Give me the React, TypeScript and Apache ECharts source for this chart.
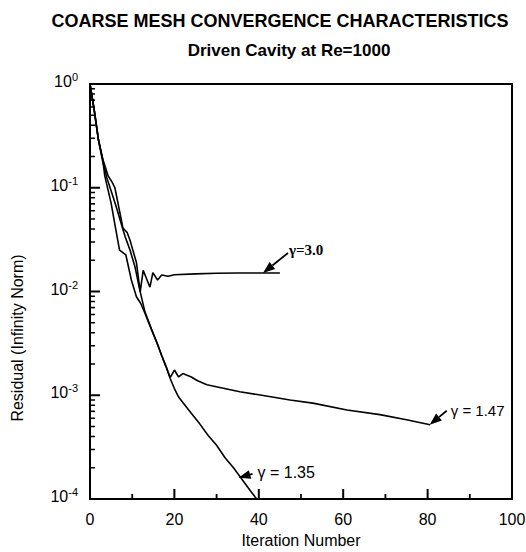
import React, { useEffect, useRef } from "react";
import * as echarts from "echarts";

// ---- data (iteration number, residual) ----
const it135 = [0, 1, 2, 3, 3.5, 5, 6, 7, 8.5, 9.8, 11, 12, 13, 14, 15, 16, 17, 18, 19, 20, 21, 22, 24, 26, 28, 30, 32, 34, 36, 38, 39.5];
const res135 = [1.0, 0.56, 0.29, 0.19, 0.13, 0.071, 0.042, 0.025, 0.0225, 0.0129, 0.0089, 0.0077, 0.0062, 0.0049, 0.0039, 0.0031, 0.0024, 0.0019, 0.00145, 0.00116, 0.00096, 0.00085, 0.00067, 0.00053, 0.00041, 0.00033, 0.00025, 0.0002, 0.000155, 0.00012, 0.0001];

const it147 = [0, 1, 2, 3, 4, 5.5, 6.5, 7.6, 8.3, 9.5, 10.7, 11.8, 13, 14, 15, 16, 17, 18, 19, 20, 21, 22, 24, 25.5, 27.7, 31.6, 35.5, 40, 47.4, 52.8, 60.9, 68.7, 75, 80.6];
const res147 = [1.0, 0.56, 0.29, 0.18, 0.124, 0.081, 0.06, 0.042, 0.034, 0.025, 0.017, 0.0103, 0.0064, 0.005, 0.0039, 0.0031, 0.0024, 0.0019, 0.00148, 0.00175, 0.0015, 0.00162, 0.0015, 0.00138, 0.00126, 0.00117, 0.00108, 0.00101, 0.0009, 0.00084, 0.00072, 0.00065, 0.00058, 0.00052];

const it30 = [0, 1, 2, 3, 4.3, 5.2, 5.9, 7.8, 8.8, 9.5, 11, 11.9, 12.6, 14.2, 14.9, 16, 17, 18.5, 20, 25, 30, 35, 40, 45];
const res30 = [1.0, 0.56, 0.29, 0.19, 0.13, 0.114, 0.1, 0.041, 0.037, 0.031, 0.019, 0.0099, 0.016, 0.011, 0.0152, 0.0129, 0.0144, 0.014, 0.0145, 0.0148, 0.015, 0.0151, 0.0151, 0.0151];

// axis ticks
const xTickValues = [0, 20, 40, 60, 80, 100];
const xMinorValues = [10, 30, 50, 70, 90];
const yDecades = [1e-4, 1e-3, 1e-2, 1e-1, 1];
const minorMantissas = [2, 3, 4, 5, 6, 7, 8, 9];

const labels = { g30: "γ=3.0", g147: "γ = 1.47", g135: "γ = 1.35" };

const SANS = "'Liberation Sans', Arial, Helvetica, sans-serif";
const SERIF = "'Liberation Serif', 'Times New Roman', serif";

const W = 526, H = 552;
const GRID = { left: 90, right: 14, top: 84, bottom: 53 };

export default function App() {
  const ref = useRef<HTMLDivElement>(null);
  useEffect(() => {
    const chart = echarts.init(ref.current!, null, { renderer: "svg" });
    const line = (xs: number[], ys: number[], name: string) => ({
      name,
      type: "line",
      data: xs.map((x, i) => [x, ys[i]]),
      showSymbol: false,
      symbol: "none",
      lineStyle: { color: "#000", width: 1.6 },
      silent: true,
    });
    chart.setOption({
      animation: false,
      backgroundColor: "#fff",
      grid: {
        ...GRID,
        containLabel: false,
        outerBoundsMode: "none",
        show: true, borderColor: "#000", borderWidth: 2, backgroundColor: "transparent",
      },
      xAxis: {
        type: "value",
        min: 0,
        max: 100,
        interval: 20,
        name: "Iteration Number",
        nameLocation: "middle",
        nameGap: 33,
        nameTextStyle: { fontFamily: SANS, fontSize: 16, color: "#000" },
        axisLine: { show: true, lineStyle: { color: "#000", width: 2 } },
        axisTick: { show: false },
        splitLine: { show: false },
        axisLabel: {
          fontFamily: SANS,
          fontSize: 16,
          color: "#000",
          margin: 12,
          formatter: (v: number) => (xTickValues.includes(v) ? String(v) : ""),
        },
      },
      yAxis: {
        type: "log",
        logBase: 10,
        min: 1e-4,
        max: 1,
        axisLine: { show: true, lineStyle: { color: "#000", width: 2 } },
        axisTick: { show: false },
        splitLine: { show: false },
        axisLabel: {
          margin: 12,
          padding: [0, 0, 5, 0],
          formatter: (v: number) => {
            const e = Math.round(Math.log10(v));
            return `{b|10}{s|${e}}`;
          },
          rich: {
            b: { fontFamily: SANS, fontSize: 16, color: "#000", lineHeight: 16 },
            s: { fontFamily: SANS, fontSize: 11, color: "#000", lineHeight: 11, padding: [0, 0, 9, 0] },
          },
        },
      },
      series: [line(it30, res30, "g30"), line(it147, res147, "g147"), line(it135, res135, "g135")],
    });

    const px = (p: number[]) => chart.convertToPixel({ gridIndex: 0 }, p) as number[];
    const x0 = GRID.left;
    const y0 = H - GRID.bottom;
    const ticks: any[] = [];
    const vTick = (v: number, len: number, w: number) => {
      const x = px([v, 0.0002])[0];
      ticks.push({ type: "line", z: 100, shape: { x1: x, y1: y0, x2: x + 0.01, y2: y0 - len }, style: { stroke: "#000", lineWidth: w } });
    };
    const hTick = (v: number, len: number, w: number) => {
      const y = px([1, v])[1];
      ticks.push({ type: "line", z: 100, shape: { x1: x0, y1: y, x2: x0 + len, y2: y + 0.01 }, style: { stroke: "#000", lineWidth: w } });
    };
    xTickValues.forEach((v) => vTick(v, 10, 2));
    xMinorValues.forEach((v) => vTick(v, 5, 1.8));
    yDecades.forEach((d, i) => {
      hTick(d, 10, 2);
      if (i < yDecades.length - 1) minorMantissas.forEach((m) => hTick(d * m, 5, 1.6));
    });

    const arrow = (tip: number[], dx: number, dy: number) => {
      const tail = [tip[0] + dx, tip[1] + dy];
      const len = Math.hypot(dx, dy);
      const ux = dx / len, uy = dy / len;
      const hl = 12, hw = 4.5;
      const bx = tip[0] + ux * hl, by = tip[1] + uy * hl;
      return [
        { type: "line", shape: { x1: tail[0], y1: tail[1], x2: bx, y2: by }, style: { stroke: "#000", lineWidth: 1.8 } },
        {
          type: "polygon",
          shape: { points: [[tip[0], tip[1]], [bx - uy * hw, by + ux * hw], [bx + uy * hw, by - ux * hw]] },
          style: { fill: "#000" },
        },
      ];
    };
    const t30 = px([41, 0.0151]);
    const t147 = px([80.5, 0.00052]);
    const t135 = px([35.2, 0.00016]);
    chart.setOption({
      graphic: [
        { type: "text", x: 280, y: 21, style: { text: "COARSE MESH CONVERGENCE CHARACTERISTICS", font: `bold 18px ${SANS}`, fill: "#000", textAlign: "center", textVerticalAlign: "middle" } },
        { type: "text", x: 289, y: 50, style: { text: "Driven Cavity at Re=1000", font: `bold 17px ${SANS}`, fill: "#000", textAlign: "center", textVerticalAlign: "middle" } },
        { type: "text", x: 17, y: 338, rotation: Math.PI / 2, style: { text: "Residual (Infinity Norm)", font: `16px ${SANS}`, fill: "#000", textAlign: "center", textVerticalAlign: "middle" } },
        ...arrow(t30, 25, -20),
        { type: "text", x: t30[0] + 26, y: t30[1] - 23, style: { text: labels.g30, font: `bold 15px ${SERIF}`, fill: "#000", textAlign: "left", textVerticalAlign: "middle" } },
        ...arrow(t147, 17, -14),
        { type: "text", x: t147[0] + 21, y: t147[1] - 14, style: { text: labels.g147, font: `15px ${SANS}`, fill: "#000", textAlign: "left", textVerticalAlign: "middle" } },
        ...arrow(t135, 14, -4),
        { type: "text", x: t135[0] + 19, y: t135[1] - 5, style: { text: labels.g135, font: `16px ${SANS}`, fill: "#000", textAlign: "left", textVerticalAlign: "middle" } },
        ...ticks,
      ],
    });
    return () => chart.dispose();
  }, []);
  return <div ref={ref} style={{ position: "absolute", left: 0, top: 0, width: W, height: H }} />;
}
